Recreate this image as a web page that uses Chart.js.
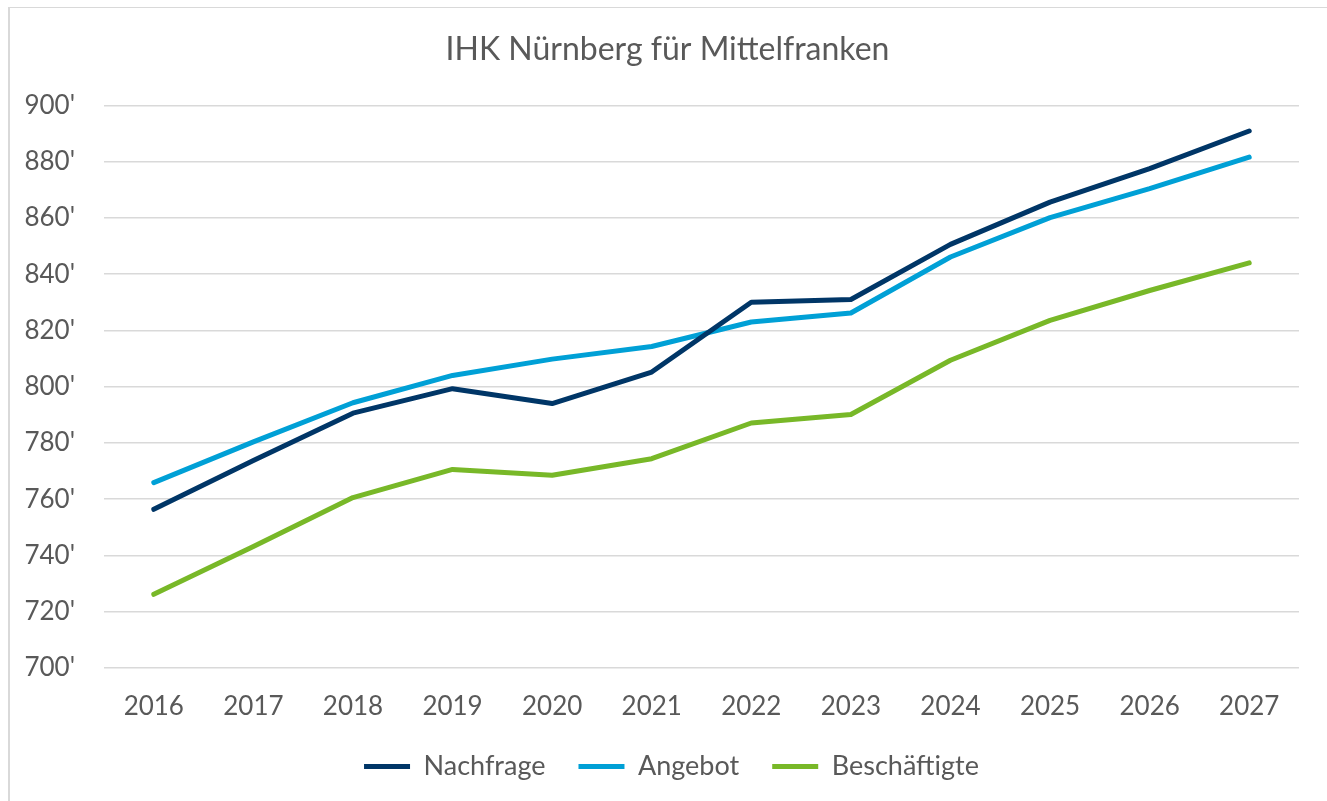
<!DOCTYPE html>
<html>
<head>
<meta charset="utf-8">
<script src="https://cdn.jsdelivr.net/npm/chart.js@4/dist/chart.umd.min.js"></script>
<style>
  html, body { margin: 0; padding: 0; background: #fff; overflow: hidden; }
  #frame {
    position: absolute; left: 8px; top: 7px; width: 1400px; height: 900px;
    border-left: 2px solid #d9d9d9; border-top: 1px solid #d9d9d9;
  }
  #wrap { position: absolute; left: 0; top: 0; width: 1327px; height: 801px; }
</style>
</head>
<body>
<div id="frame"></div>
<div id="wrap"><canvas id="lineChart"></canvas></div>
<script>
// values in thousands
const years = ["2016", "2017", "2018", "2019", "2020", "2021", "2022", "2023", "2024", "2025", "2026", "2027"];
const nachfrage = [756.4, 773.8, 790.6, 799.3, 794.0, 805.2, 830.0, 831.0, 850.6, 865.6, 877.5, 890.9];
const angebot = [765.9, 780.4, 794.3, 804.0, 809.8, 814.3, 823.0, 826.2, 846.1, 860.1, 870.4, 881.6];
const beschaeftigte = [726.2, 743.2, 760.6, 770.6, 768.5, 774.4, 787.1, 790.1, 809.4, 823.6, 834.2, 844.0];
const yMin = 700, yMax = 900, yStep = 20;

document.addEventListener("DOMContentLoaded", function () {
    let ctx = document.getElementById("lineChart").getContext("2d");
    const grey = "#595959";

    function line(label, data, color) {
        return {
            label: label,
            data: data,
            borderColor: color,
            backgroundColor: color,
            borderWidth: 5,
            borderCapStyle: "round",
            borderJoinStyle: "round",
            pointRadius: 0,
            pointHoverRadius: 0,
            tension: 0,
            fill: false
        };
    }

    // title and legend are centred on the whole frame in the original
    const recentre = {
        id: "recentre",
        afterLayout: function (chart) {
            chart.titleBlock.left += 14;
            chart.titleBlock.right += 14;
            chart.legend.left += 18;
            chart.legend.right += 18;
        }
    };

    new Chart(ctx, {
        type: "line",
        data: {
            labels: years,
            datasets: [
                line("Nachfrage", nachfrage, "#003667"),
                line("Angebot", angebot, "#00a0d6"),
                line("Beschäftigte", beschaeftigte, "#78b828")
            ]
        },
        options: {
            responsive: true,
            maintainAspectRatio: false,
            animation: false,
            layout: { padding: { left: 8, right: 28, top: 0, bottom: 11 } },
            plugins: {
                title: {
                    display: true,
                    text: "IHK Nürnberg für Mittelfranken",
                    color: grey,
                    font: { family: "Lato", size: 32, weight: "normal" },
                    padding: { top: 30, bottom: 37 }
                },
                legend: {
                    position: "bottom",
                    labels: {
                        color: grey,
                        font: { family: "Lato", size: 27 },
                        usePointStyle: true,
                        pointStyle: "line",
                        pointStyleWidth: 46,
                        padding: 33
                    }
                },
                tooltip: { enabled: false }
            },
            scales: {
                x: {
                    offset: true,
                    grid: { display: false, drawTicks: false },
                    border: { display: false },
                    ticks: {
                        color: grey,
                        font: { family: "Lato", size: 26 },
                        padding: 23,
                        maxRotation: 0
                    },
                    afterFit: function (s) { s.height = 52; }
                },
                y: {
                    min: yMin,
                    max: yMax,
                    grid: { color: "#d9d9d9", lineWidth: 1.5, drawTicks: false },
                    border: { display: false },
                    ticks: {
                        stepSize: yStep,
                        color: grey,
                        font: { family: "Lato", size: 26 },
                        padding: 29,
                        callback: function (v) { return v + "'"; }
                    },
                    afterFit: function (s) { s.width = 96; }
                }
            }
        },
        plugins: [recentre]
    });
});
</script>
</body>
</html>
